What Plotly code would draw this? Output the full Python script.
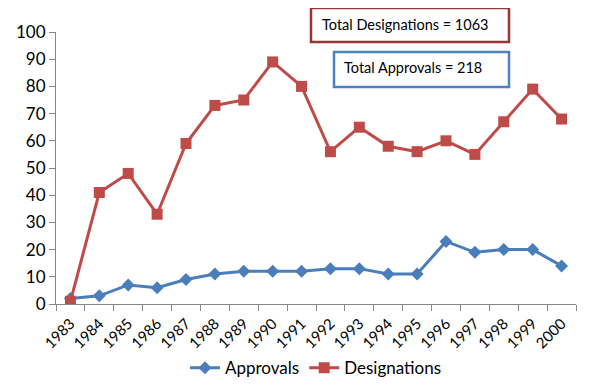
import plotly.graph_objects as go

years = [str(y) for y in range(1983, 2001)]
approvals = [2, 3, 7, 6, 9, 11, 12, 12, 12, 13, 13, 11, 11, 23, 19, 20, 20, 14]
designations = [1, 41, 48, 33, 59, 73, 75, 89, 80, 56, 65, 58, 56, 60, 55, 67, 79, 68]
y_ticks = list(range(0, 101, 10))

FONT = "Lato"
OFF = 8  # page body margin
W, H = 596 - OFF, 387 - OFF
L, R, T, B = 56 - OFF, 20, 32 - OFF, 83
pw, ph = W - L - R, H - T - B

def px_x(x):
    return (x - OFF - L) / pw

def px_y(y):
    return (H - B - (y - OFF)) / ph

fig = go.Figure()
fig.add_trace(go.Scatter(
    x=years, y=approvals, name="Approvals", mode="lines+markers",
    line=dict(color="#4A7EBB", width=3),
    marker=dict(symbol="diamond", size=10, color="#4A7EBB"),
))
fig.add_trace(go.Scatter(
    x=years, y=designations, name="Designations", mode="lines+markers",
    line=dict(color="#BE4B48", width=3),
    marker=dict(symbol="square", size=11, color="#BE4B48"),
))

fig.add_shape(type="rect", xref="paper", yref="paper",
              x0=px_x(311), x1=px_x(509), y0=px_y(42), y1=px_y(8),
              line=dict(color="#953735", width=2.5), fillcolor="white")
fig.add_shape(type="rect", xref="paper", yref="paper",
              x0=px_x(334), x1=px_x(509), y0=px_y(87), y1=px_y(52),
              line=dict(color="#4F81BD", width=2.5), fillcolor="white")
fig.add_annotation(xref="paper", yref="paper", x=px_x(320), y=px_y(24),
                   xanchor="left", yanchor="middle", showarrow=False,
                   text="Total Designations = 1063",
                   font=dict(family=FONT, size=14.5, color="#000000"))
fig.add_annotation(xref="paper", yref="paper", x=px_x(342), y=px_y(68),
                   xanchor="left", yanchor="middle", showarrow=False,
                   text="Total Approvals = 218",
                   font=dict(family=FONT, size=14.5, color="#000000"))

fig.update_layout(
    width=W, height=H,
    margin=dict(l=L, r=R, t=T, b=B, autoexpand=False),
    paper_bgcolor="white", plot_bgcolor="white",
    font=dict(family=FONT, color="#000000"),
    showlegend=True,
    legend=dict(orientation="h", x=0.5, xanchor="center", y=-0.17, yanchor="top",
                font=dict(family=FONT, size=17), itemwidth=30, tracegroupgap=0),
)
fig.update_xaxes(
    type="category", range=[-0.5, len(years) - 0.5],
    showgrid=False, showline=True, linecolor="#868686", linewidth=1,
    ticks="outside", tickson="boundaries", ticklen=6, tickcolor="#868686",
    tickangle=-45, tickfont=dict(family=FONT, size=15), zeroline=False,
    ticklabelstandoff=4, automargin=False,
)
fig.update_yaxes(
    range=[0, 100], tickvals=y_ticks, showgrid=False, showline=True,
    linecolor="#868686", linewidth=1, ticks="outside", ticklen=6,
    tickcolor="#868686", tickfont=dict(family=FONT, size=17), zeroline=False,
    automargin=False,
)

fig.write_html("out.html")
